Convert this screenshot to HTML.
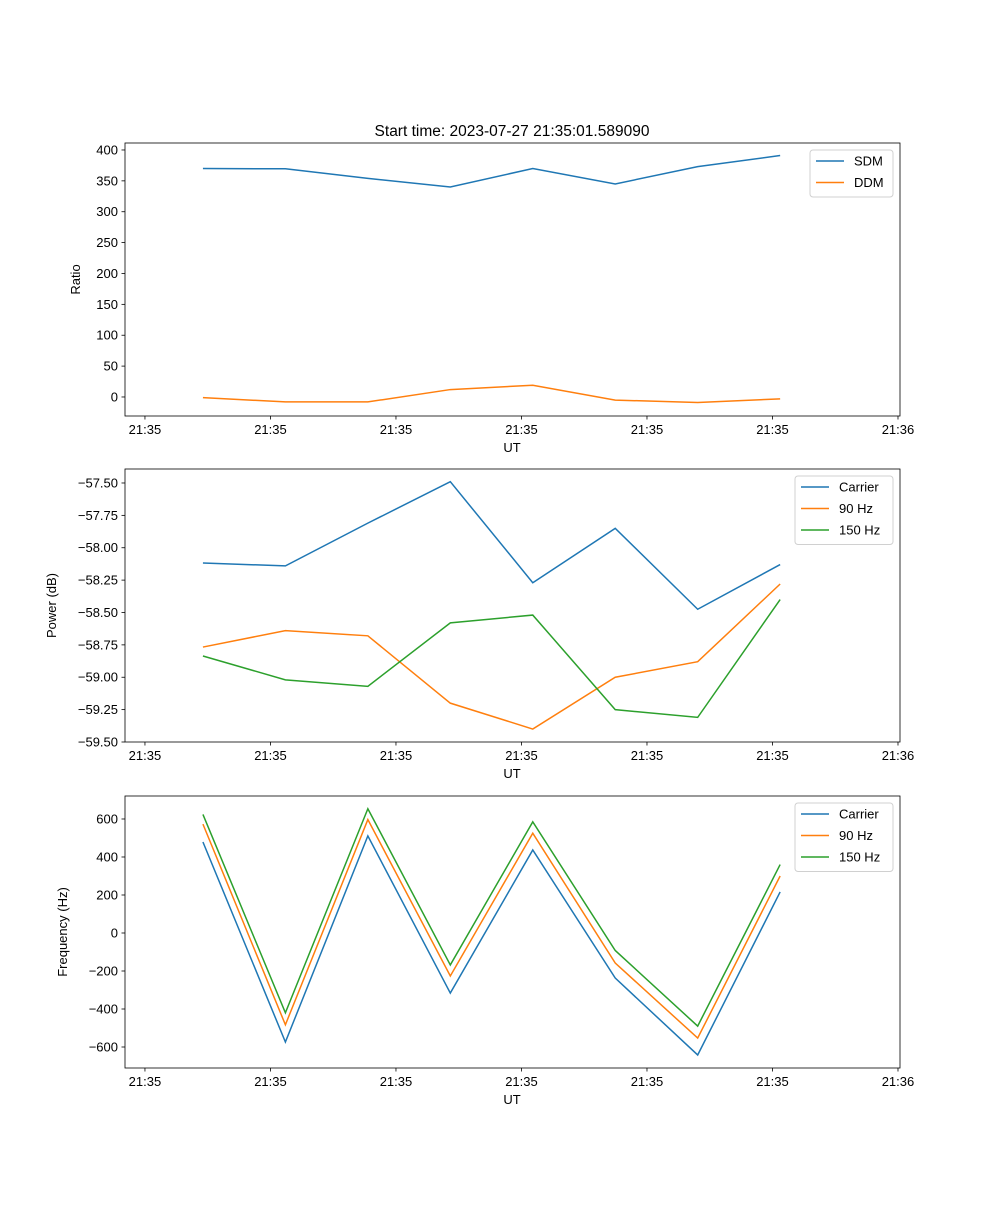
<!DOCTYPE html>
<html><head><meta charset="utf-8"><style>
body{margin:0;background:#fff}
svg text{font-family:"Liberation Sans","DejaVu Sans",sans-serif;fill:#000}
</style></head><body>
<svg id="chart" width="1000" height="1200" xmlns="http://www.w3.org/2000/svg">
<rect width="1000" height="1200" fill="#fff"/>
<text x="512" y="136" font-size="15.5" text-anchor="middle">Start time: 2023-07-27 21:35:01.589090</text>
</svg>
<script>
const times = [0.462, 1.119, 1.776, 2.433, 3.090, 3.747, 4.404, 5.061];
const xTickVals = [0, 1, 2, 3, 4, 5, 6];
const xTickLabels = ["21:35","21:35","21:35","21:35","21:35","21:35","21:36"];
const sdm = [370, 369.5, 354, 340, 370, 345, 373, 391];
const ddm = [-1, -8, -8, 12, 19, -5, -9, -3];
const powCarrier = [-58.118, -58.14, -57.81, -57.49, -58.27, -57.85, -58.475, -58.13];
const pow90 = [-58.767, -58.64, -58.68, -59.2, -59.40, -59.0, -58.88, -58.28];
const pow150 = [-58.836, -59.02, -59.07, -58.58, -58.52, -59.25, -59.31, -58.40];
const frqCarrier = [479, -574, 511, -316, 437, -237, -642, 216];
const frq90 = [573, -483, 597, -226, 525, -158, -553, 300];
const frq150 = [624, -420, 654, -168, 585, -92, -490, 360];
const yTicks1 = [0,50,100,150,200,250,300,350,400];
const yTicks2 = [-59.5,-59.25,-59.0,-58.75,-58.5,-58.25,-58.0,-57.75,-57.5];
const yTicks3 = [-600,-400,-200,0,200,400,600];

const NS="http://www.w3.org/2000/svg";
const svg=document.getElementById('chart');
function el(tag,attrs,parent){const e=document.createElementNS(NS,tag);for(const k in attrs)e.setAttribute(k,attrs[k]);(parent||svg).appendChild(e);return e;}
const L=125,R=900,xd=[-0.159,6.016];
const xs=v=>L+(v-xd[0])/(xd[1]-xd[0])*(R-L);
const C=['#1f77b4','#ff7f0e','#2ca02c'];

function panel(name,top,bot,yd,yTicks,fmt,ylabel,series,names,leg){
  const g=el('g',{});
  
  
  const ys=v=>bot-(v-yd[0])/(yd[1]-yd[0])*(bot-top);
  series.forEach((s,i)=>{
    const p=el('polyline',{points:s.map((v,j)=>xs(times[j])+','+ys(v)).join(' '),fill:'none',stroke:C[i],'stroke-width':1.5},g);
    
    
  });
  el('rect',{x:L,y:top,width:R-L,height:bot-top,fill:'none',stroke:'#000','stroke-width':0.8},g);
  xTickVals.forEach((v,i)=>{
    const x=xs(v);
    el('line',{x1:x,x2:x,y1:bot,y2:bot+3.5,stroke:'#000','stroke-width':0.8},g);
    const t=el('text',{x:x,y:bot+18,'font-size':13,'text-anchor':'middle'},g);t.textContent=xTickLabels[i];
    
    
  });
  yTicks.forEach(v=>{
    const y=ys(v);
    el('line',{x1:L-3.5,x2:L,y1:y,y2:y,stroke:'#000','stroke-width':0.8},g);
    const t=el('text',{x:L-7,y:y+4.5,'font-size':13,'text-anchor':'end'},g);t.textContent=fmt(v);
    
    
  });
  const xl=el('text',{x:512,y:bot+36,'font-size':13,'text-anchor':'middle'},g);xl.textContent='UT';
  
  
  const cy=(top+bot)/2;
  const yl=el('text',{x:0,y:0,'font-size':13,'text-anchor':'middle',transform:`translate(${leg.yl},${cy}) rotate(-90)`},g);yl.textContent=ylabel;
  
  
  const lg=el('g',{},g);
  
  
  el('rect',{x:leg.x,y:top+7,width:R-7-leg.x,height:names.length*21.5+4,rx:3,fill:'#fff',stroke:'#ccc','stroke-width':1,opacity:0.9},lg);
  names.forEach((n,i)=>{
    const y=top+18+i*21.5;
    el('line',{x1:leg.x+6,x2:leg.x+34,y1:y,y2:y,stroke:C[i],'stroke-width':1.5},lg);
    const t=el('text',{x:leg.x+44,y:y+4.5,'font-size':13},lg);t.textContent=n;
    
    
  });
}
const sign=s=>s.replace('-','\u2212');
panel('ratio',143,416,[-30.8,411.3],yTicks1,v=>sign(String(v)),'Ratio',[sdm,ddm],['SDM','DDM'],{x:810,yl:80});
panel('power',469,742,[-59.5,-57.392],yTicks2,v=>sign(v.toFixed(2)),'Power (dB)',[powCarrier,pow90,pow150],['Carrier','90 Hz','150 Hz'],{x:795,yl:56});
panel('frequency',796,1068,[-710.5,721],yTicks3,v=>sign(String(v)),'Frequency (Hz)',[frqCarrier,frq90,frq150],['Carrier','90 Hz','150 Hz'],{x:795,yl:67});
</script>
</body></html>
